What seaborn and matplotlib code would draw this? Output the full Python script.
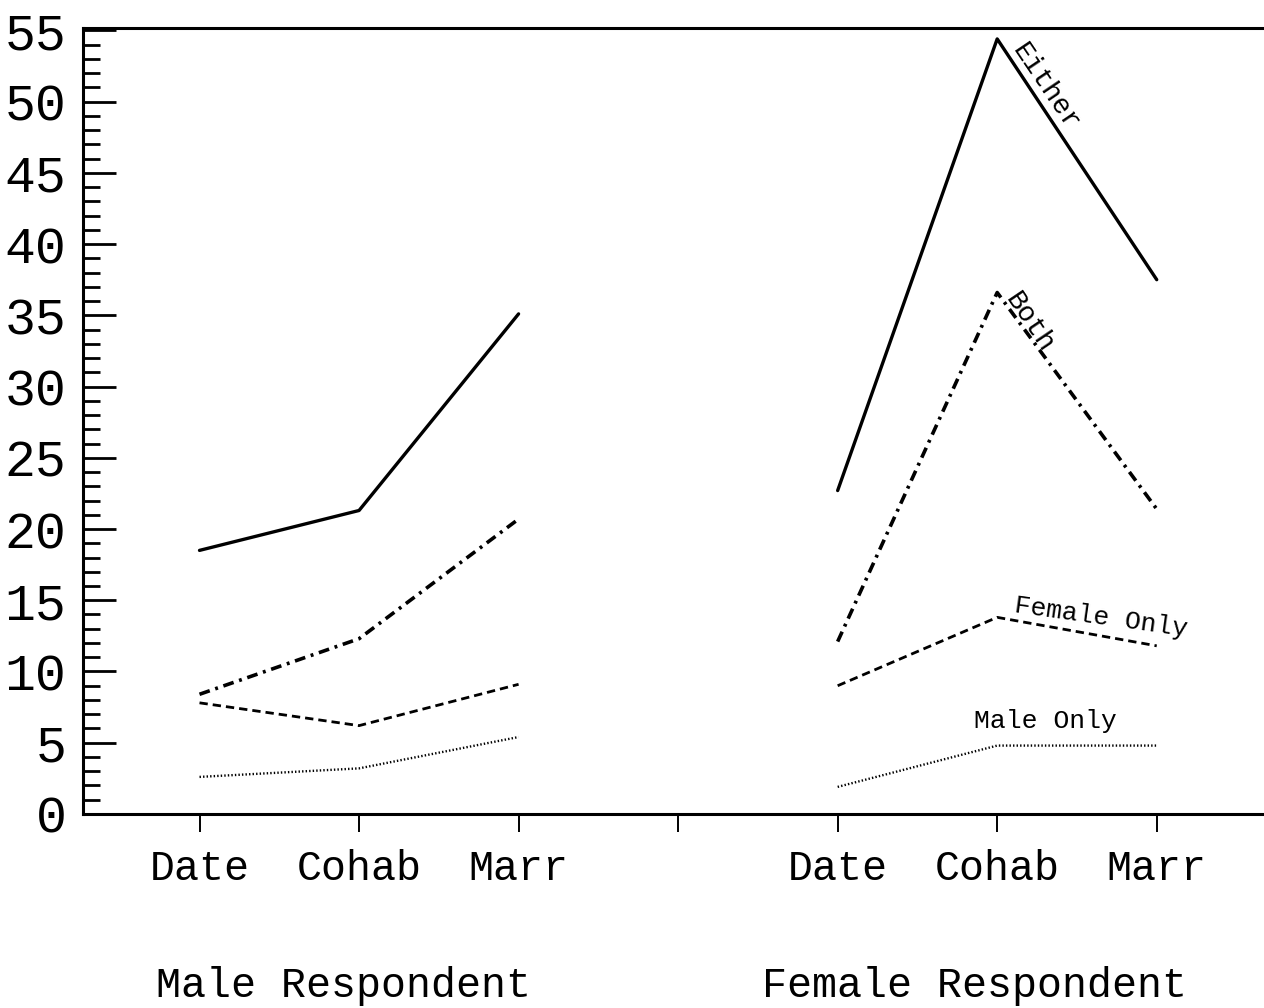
import numpy as np
import pandas as pd
import matplotlib
matplotlib.use('Agg')
import matplotlib.pyplot as plt
import seaborn as sns
from matplotlib.ticker import MultipleLocator

# stages on the x axis and the two respondent groups
stages = ['Date', 'Cohab', 'Marr']
male_x = [1, 2, 3]
female_x = [5, 6, 7]

# male respondent
male_either = [18.5, 21.3, 35.1]
male_both = [8.4, 12.3, 20.7]
male_female_only = [7.8, 6.2, 9.1]
male_male_only = [2.6, 3.2, 5.4]

# female respondent
female_either = [22.7, 54.4, 37.5]
female_both = [12.1, 36.6, 21.4]
female_female_only = [9.0, 13.8, 11.8]
female_male_only = [1.9, 4.8, 4.8]

series_names = ['Either', 'Both', 'Female Only', 'Male Only']

rows = []
for name, vals in zip(series_names, [male_either, male_both, male_female_only, male_male_only]):
    for x, s, v in zip(male_x, stages, vals):
        rows.append({'group': 'Male Respondent', 'series': name, 'x': x, 'stage': s, 'value': v})
for name, vals in zip(series_names, [female_either, female_both, female_female_only, female_male_only]):
    for x, s, v in zip(female_x, stages, vals):
        rows.append({'group': 'Female Respondent', 'series': name, 'x': x, 'stage': s, 'value': v})
df = pd.DataFrame(rows)

sns.set_style('white')
plt.rcParams['font.family'] = ['Liberation Mono', 'DejaVu Sans Mono']
plt.rcParams['text.color'] = 'black'

fig = plt.figure(figsize=(12.64, 10.08), dpi=100)
ax = fig.add_axes([0.0657, 0.1925, 0.934, 0.7795])

dashes = {'Either': '', 'Both': (3, 1.6, 0.8, 1.6), 'Female Only': (3, 1.8), 'Male Only': (0.6, 0.9)}
sizes = {'Either': 2.4, 'Both': 2.6, 'Female Only': 2.0, 'Male Only': 1.7}

for g in ['Male Respondent', 'Female Respondent']:
    sns.lineplot(data=df[df['group'] == g], x='x', y='value', style='series',
                 size='series', sizes=sizes, dashes=dashes, color='black',
                 estimator=None, legend=False, ax=ax)

ax.set_xlim(0.27, 7.67)
ax.set_ylim(0, 55.15)
ax.set_xticks([1, 2, 3, 4, 5, 6, 7])
ax.set_xticklabels(stages + [''] + stages)
ax.yaxis.set_major_locator(MultipleLocator(5))
ax.yaxis.set_minor_locator(MultipleLocator(1))
ax.set_xlabel('')
ax.set_ylabel('')

ax.tick_params(axis='y', which='both', left=True)
ax.tick_params(axis='x', which='major', bottom=True)
ax.tick_params(axis='y', which='major', direction='in', length=24, width=2,
               labelsize=37, pad=12, colors='black')
ax.tick_params(axis='y', which='minor', direction='in', length=12, width=2, color='black')
ax.tick_params(axis='x', which='major', direction='out', length=13, width=1.4,
               labelsize=30, pad=12, colors='black')

for side in ['left', 'bottom', 'top']:
    ax.spines[side].set_linewidth(2.2)
    ax.spines[side].set_color('black')
ax.spines['right'].set_visible(False)

# group captions
ax.text(1.9, -0.233, 'Male Respondent', transform=ax.get_xaxis_transform(),
        ha='center', va='baseline', fontsize=30, color='black')
ax.text(5.86, -0.233, 'Female Respondent', transform=ax.get_xaxis_transform(),
        ha='center', va='baseline', fontsize=30, color='black')

# line labels
ax.text(6.3, 51.0, 'Either', rotation=-56, ha='center', va='center', fontsize=20, color='black')
ax.text(6.2, 34.5, 'Both', rotation=-56, ha='center', va='center', fontsize=20, color='black')
ax.text(6.65, 13.8, 'Female Only', rotation=-8, ha='center', va='center', fontsize=19, color='black')
ax.text(6.3, 6.5, 'Male Only', rotation=0, ha='center', va='center', fontsize=19, color='black')

fig.savefig('out.png', dpi=100, facecolor='white')
